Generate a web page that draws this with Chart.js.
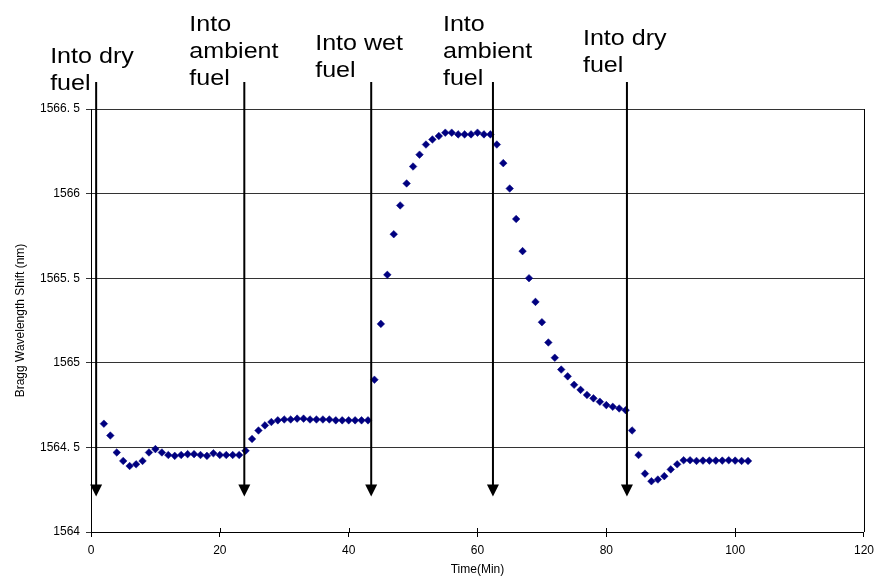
<!DOCTYPE html>
<html>
<head>
<meta charset="utf-8">
<script src="https://cdn.jsdelivr.net/npm/chart.js@4/dist/chart.umd.min.js"></script>
<style>
  body { margin: 0; background: #fff; }
  canvas { display: block; }
</style>
</head>
<body>
<canvas id="braggChart" width="880" height="580"></canvas>
<script>
// time of each reading (minutes)
const times = [
    2, 3, 4, 5, 6, 7, 8, 9, 10, 11, 12, 13, 14, 15, 16, 17, 18, 19, 20, 21,
    22, 23, 24, 25, 26, 27, 28, 29, 30, 31, 32, 33, 34, 35, 36, 37, 38, 39, 40, 41,
    42, 43, 44, 45, 46, 47, 48, 49, 50, 51, 52, 53, 54, 55, 56, 57, 58, 59, 60, 61,
    62, 63, 64, 65, 66, 67, 68, 69, 70, 71, 72, 73, 74, 75, 76, 77, 78, 79, 80, 81,
    82, 83, 84, 85, 86, 87, 88, 89, 90, 91, 92, 93, 94, 95, 96, 97, 98, 99, 100, 101,
    102
];
// Bragg wavelength (nm)
const wavelength = [
    1564.64, 1564.57, 1564.47, 1564.42, 1564.39, 1564.40, 1564.42, 1564.47, 1564.49, 1564.47,
    1564.455, 1564.45, 1564.455, 1564.46, 1564.46, 1564.455, 1564.45, 1564.465, 1564.455, 1564.455,
    1564.455, 1564.455, 1564.48, 1564.55, 1564.60, 1564.63, 1564.65, 1564.66, 1564.665, 1564.665,
    1564.67, 1564.67, 1564.665, 1564.665, 1564.665, 1564.665, 1564.66, 1564.66, 1564.66, 1564.66,
    1564.66, 1564.66, 1564.90, 1565.23, 1565.52, 1565.76, 1565.93, 1566.06, 1566.16, 1566.23,
    1566.29, 1566.32, 1566.34, 1566.36, 1566.36, 1566.35, 1566.35, 1566.35, 1566.36, 1566.35,
    1566.35, 1566.29, 1566.18, 1566.03, 1565.85, 1565.66, 1565.50, 1565.36, 1565.24, 1565.12,
    1565.03, 1564.96, 1564.92, 1564.87, 1564.84, 1564.81, 1564.79, 1564.77, 1564.75, 1564.74,
    1564.73, 1564.72, 1564.60, 1564.455, 1564.345, 1564.30, 1564.31, 1564.33, 1564.37, 1564.40,
    1564.424, 1564.424, 1564.42, 1564.422, 1564.422, 1564.422, 1564.422, 1564.424, 1564.422, 1564.42,
    1564.42
];
const yTickLabels = ['1564', '1564. 5', '1565', '1565. 5', '1566', '1566. 5'];

// event arrows
const eventTimes = [0.8, 23.8, 43.5, 62.4, 83.2];
const eventLabels = [
    ['Into dry', 'fuel'],
    ['Into', 'ambient', 'fuel'],
    ['Into wet', 'fuel'],
    ['Into', 'ambient', 'fuel'],
    ['Into dry', 'fuel']
];
const arrowTop = 1566.66;
const arrowTip = 1564.21;

const points = times.map((t, i) => ({ x: t, y: wavelength[i] }));

const FONT = "'Liberation Sans', Arial, sans-serif";

const annotations = {
    id: 'annotations',
    afterDraw(chart) {
        const ctx = chart.ctx;
        const xs = chart.scales.x, ys = chart.scales.y;
        const area = chart.chartArea;
        ctx.save();

        // right side of the plot box
        ctx.strokeStyle = '#000';
        ctx.lineWidth = 1;
        ctx.beginPath();
        ctx.moveTo(area.right + 0.5, area.top);
        ctx.lineTo(area.right + 0.5, area.bottom);
        ctx.stroke();

        // x tick marks poke a little into the plot
        xs.ticks.forEach(t => {
            const px = Math.round(xs.getPixelForValue(t.value)) + 0.5;
            ctx.beginPath();
            ctx.moveTo(px, area.bottom - 4);
            ctx.lineTo(px, area.bottom);
            ctx.stroke();
        });

        // arrows
        const offsets = [-46, -55, -56, -50, -44];
        const lastBase = [90, 85, 77, 85, 72];
        const yTop = ys.getPixelForValue(arrowTop);
        const yTip = ys.getPixelForValue(arrowTip);
        eventTimes.forEach((t, i) => {
            const px = xs.getPixelForValue(t);
            ctx.strokeStyle = '#000';
            ctx.lineWidth = 2;
            ctx.beginPath();
            ctx.moveTo(px, yTop);
            ctx.lineTo(px, yTip - 8);
            ctx.stroke();
            ctx.fillStyle = '#000';
            ctx.beginPath();
            ctx.moveTo(px - 6, yTip - 12);
            ctx.lineTo(px + 6, yTip - 12);
            ctx.lineTo(px, yTip);
            ctx.closePath();
            ctx.fill();

            // label text, slightly stretched like the original
            const lines = eventLabels[i];
            ctx.font = '22px ' + FONT;
            ctx.textAlign = 'left';
            ctx.textBaseline = 'alphabetic';
            lines.forEach((line, j) => {
                const base = lastBase[i] - (lines.length - 1 - j) * 27;
                ctx.save();
                ctx.translate(px + offsets[i], base);
                ctx.scale(1.14, 1);
                ctx.fillText(line, 0, 0);
                ctx.restore();
            });
        });
        ctx.restore();
    }
};

new Chart(document.getElementById('braggChart'), {
    type: 'scatter',
    data: {
        datasets: [{
            label: 'Bragg wavelength',
            data: points,
            showLine: false,
            pointStyle: 'rectRot',
            pointRadius: 3.8,
            pointHoverRadius: 3.8,
            pointBackgroundColor: '#000080',
            pointBorderColor: '#000080',
            pointBorderWidth: 0.5
        }]
    },
    options: {
        responsive: false,
        animation: false,
        events: [],
        layout: { padding: { top: 109, right: 13, left: 0, bottom: 0 } },
        plugins: {
            legend: { display: false },
            tooltip: { enabled: false }
        },
        scales: {
            x: {
                type: 'linear',
                min: 0,
                max: 120,
                afterFit: s => { s.height = 48; },
                ticks: {
                    stepSize: 20,
                    color: '#000',
                    padding: 6,
                    maxRotation: 0,
                    font: { family: FONT, size: 12 }
                },
                grid: { drawOnChartArea: false, tickLength: 5, color: '#000' },
                border: { color: '#000', width: 1 },
                title: {
                    display: true,
                    text: 'Time(Min)',
                    color: '#000',
                    font: { family: FONT, size: 12 },
                    padding: { top: 0, bottom: 3 }
                }
            },
            y: {
                min: 1564,
                max: 1566.5,
                afterFit: s => { s.width = 91; },
                ticks: {
                    stepSize: 0.5,
                    color: '#000',
                    padding: 6,
                    font: { family: FONT, size: 12 },
                    callback: (v, i) => yTickLabels[i]
                },
                grid: { color: '#333', lineWidth: 1, tickLength: 5 },
                border: { color: '#000', width: 1 },
                title: {
                    display: true,
                    text: 'Bragg Wavelength Shift (nm)',
                    color: '#000',
                    font: { family: FONT, size: 12 },
                    padding: { top: 13, bottom: 0 }
                }
            }
        }
    },
    plugins: [annotations]
});
</script>
</body>
</html>
